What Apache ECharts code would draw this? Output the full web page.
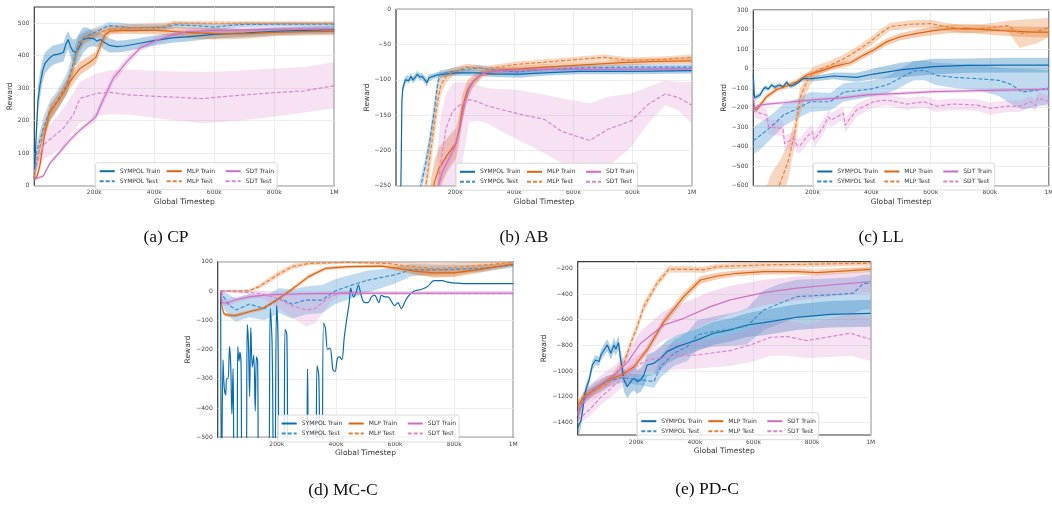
<!DOCTYPE html>
<html>
<head>
<meta charset="utf-8">
<script src="https://cdn.jsdelivr.net/npm/echarts@6/dist/echarts.min.js"></script>
<style>
html, body { margin: 0; padding: 0; background: #fff; }
#chart { width: 1052px; height: 506px; }
</style>
</head>
<body>
<div id="chart"></div>
<script>
// rows are [timestep (k), mean, lower, upper]
var seriesNames = ['SYMPOL Train', 'SYMPOL Test', 'MLP Train', 'MLP Test', 'SDT Train', 'SDT Test'];
var xTicks = [200, 400, 600, 800, 1000];
var cpTicksY = [0, 100, 200, 300, 400, 500];
var abTicksY = [-250, -200, -150, -100, -50, 0];
var llTicksY = [-600, -500, -400, -300, -200, -100, 0, 100, 200, 300];
var mcTicksY = [-500, -400, -300, -200, -100, 0, 100];
var pdTicksY = [-1400, -1200, -1000, -800, -600, -400, -200];

// (a) CP
var cpSympolTrain = [[0,20,10,30],[5,130,90,170],[12,260,215,305],[19,310,270,350],[28,355,320,390],[36,377,345,410],[50,392,362,422],[63,402,372,432],[80,405,378,435],[97,410,382,440],[105,435,405,462],[113,450,420,475],[120,430,398,460],[128,415,380,450],[140,410,370,452],[150,428,385,470],[163,450,410,488],[180,455,425,485],[200,452,430,474],[208,445,425,465],[220,450,430,470],[235,440,418,462],[250,432,410,454],[275,428,410,446],[300,430,412,448],[320,433,416,450],[360,440,424,456],[408,448,433,463],[460,455,440,470],[508,458,444,472],[600,466,453,479],[700,470,458,482],[800,475,463,487],[900,478,466,490],[1000,480,468,492]];
var cpSympolTest = [[0,40,20,60],[8,105,80,130],[30,177,145,210],[52,230,200,262],[75,258,230,290],[108,310,280,345],[130,376,345,410],[147,438,410,462],[169,458,440,475],[208,474,460,488],[247,493,480,503],[280,490,478,502],[319,486,474,498],[430,487,477,497],[470,495,485,503],[550,492,482,502],[600,488,478,498],[680,496,488,503],[800,497,490,503],[1000,497,490,503]];
var cpMlpTrain = [[0,20,15,25],[10,30,22,40],[19,64,50,80],[36,166,145,185],[52,228,205,250],[86,269,250,290],[119,320,300,342],[152,361,340,382],[186,381,362,400],[205,395,375,412],[222,435,415,455],[236,464,448,478],[252,476,465,488],[300,478,468,490],[400,478,466,490],[450,476,462,490],[500,472,455,488],[600,468,450,485],[700,467,452,482],[800,472,460,484],[900,474,462,486],[1000,475,463,487]];
var cpMlpTest = [[0,25,15,35],[10,80,60,100],[30,165,140,190],[52,220,195,245],[75,255,232,278],[108,305,280,330],[130,365,340,390],[147,430,405,452],[169,455,438,470],[208,468,455,482],[247,480,468,492],[300,485,473,497],[400,488,476,500],[440,492,482,502],[460,500,492,507],[600,500,494,506],[800,500,494,506],[1000,500,494,506]];
var cpSdtTrain = [[0,20,16,24],[30,30,25,36],[52,69,62,76],[86,105,97,113],[119,141,132,150],[152,171,162,180],[186,197,187,207],[205,212,200,224],[230,265,250,280],[263,330,315,345],[308,381,368,394],[352,423,412,434],[408,448,438,458],[463,464,455,473],[508,474,466,482],[600,478,470,486],[800,481,473,489],[1000,483,475,491]];
var cpSdtTest = [[0,40,25,55],[30,125,80,165],[63,151,100,200],[97,177,120,238],[130,218,170,285],[152,269,192,320],[208,284,215,345],[252,287,220,355],[319,279,218,358],[430,274,205,352],[560,268,192,350],[640,275,197,352],[780,285,210,360],[900,292,225,365],[1000,308,238,380]];

// (b) AB
var abSympolTrain = [[15,-300,-305,-295],[18,-200,-210,-190],[20,-130,-140,-120],[23,-112,-118,-106],[27,-106,-112,-100],[32,-100,-105,-95],[38,-98,-103,-93],[44,-101,-106,-96],[50,-95,-100,-90],[57,-100,-105,-95],[64,-97,-102,-92],[72,-92,-97,-87],[80,-96,-101,-91],[88,-95,-100,-90],[96,-99,-104,-94],[104,-104,-110,-98],[112,-97,-102,-92],[125,-95,-99,-91],[140,-93,-97,-89],[165,-92,-96,-88],[200,-90,-94,-86],[280,-90,-94,-86],[330,-92,-96,-88],[420,-92,-97,-87],[500,-90,-94,-86],[620,-88,-92,-84],[800,-88,-92,-84],[1000,-87,-91,-83]];
var abSympolTest = [[60,-330,-340,-320],[84,-250,-262,-238],[100,-220,-232,-208],[112,-192,-205,-180],[129,-145,-158,-132],[140,-108,-118,-98],[148,-92,-98,-86],[170,-90,-95,-85],[220,-86,-91,-81],[280,-83,-87,-79],[330,-86,-90,-82],[410,-89,-94,-84],[500,-85,-89,-81],[620,-83,-87,-79],[800,-82,-86,-78],[1000,-82,-86,-78]];
var abMlpTrain = [[110,-290,-320,-260],[130,-245,-275,-215],[146,-225,-255,-195],[174,-206,-230,-182],[203,-190,-212,-168],[214,-169,-190,-148],[225,-138,-158,-120],[242,-114,-128,-100],[259,-103,-112,-94],[293,-91,-96,-86],[350,-86,-90,-82],[429,-84,-88,-80],[500,-82,-86,-78],[620,-79,-83,-75],[750,-76,-80,-72],[870,-74,-78,-70],[1000,-73,-77,-69]];
var abMlpTest = [[90,-290,-310,-270],[101,-250,-272,-228],[123,-183,-205,-161],[140,-131,-150,-112],[152,-107,-122,-92],[169,-95,-104,-86],[191,-89,-95,-83],[237,-82,-87,-77],[304,-84,-88,-80],[412,-78,-82,-74],[502,-75,-79,-71],[615,-71,-75,-67],[705,-68,-72,-64],[785,-72,-76,-68],[898,-71,-75,-67],[1000,-68,-72,-64]];
var abSdtTrain = [[120,-290,-300,-280],[140,-255,-265,-245],[157,-230,-240,-220],[197,-197,-207,-187],[214,-173,-183,-163],[231,-136,-146,-126],[248,-112,-120,-104],[265,-100,-106,-94],[293,-91,-95,-87],[350,-87,-91,-83],[500,-85,-89,-81],[700,-85,-89,-81],[1000,-84,-88,-80]];
var abSdtTest = [[140,-260,-330,-200],[152,-216,-300,-150],[169,-169,-270,-120],[191,-145,-260,-105],[214,-136,-240,-103],[248,-128,-160,-104],[276,-131,-158,-108],[310,-137,-162,-112],[355,-142,-173,-113],[412,-148,-185,-114],[502,-156,-204,-121],[560,-173,-218,-126],[655,-186,-237,-133],[717,-170,-223,-124],[796,-158,-195,-119],[852,-135,-162,-110],[910,-120,-136,-101],[955,-125,-143,-103],[1000,-136,-162,-103]];

// (c) LL
var llSympolTrain = [[0,-30,-40,-20],[4,-150,-165,-135],[11,-144,-158,-130],[23,-135,-148,-122],[32,-110,-122,-98],[40,-96,-108,-84],[51,-105,-116,-94],[62,-84,-95,-73],[73,-96,-107,-85],[82,-88,-98,-78],[90,-84,-94,-74],[100,-95,-105,-85],[113,-70,-80,-60],[122,-88,-98,-78],[130,-89,-99,-79],[147,-76,-86,-66],[170,-50,-62,-38],[200,-52,-66,-38],[271,-38,-55,-20],[350,-45,-68,-22],[407,-28,-55,0],[497,-7,-45,30],[610,10,-30,50],[723,16,-22,52],[850,18,-20,55],[1000,18,-20,55]];
var llSympolTest = [[0,-370,-440,-300],[30,-335,-405,-270],[70,-285,-345,-225],[102,-238,-295,-182],[150,-205,-255,-155],[192,-170,-222,-120],[260,-170,-215,-125],[305,-121,-170,-75],[396,-105,-145,-62],[450,-85,-130,-40],[486,-58,-105,-12],[542,-12,-60,38],[580,-10,-60,40],[620,-35,-85,30],[680,-45,-100,25],[760,-52,-110,20],[830,-60,-140,5],[870,-80,-180,0],[910,-120,-210,0],[960,-110,-195,-5],[1000,-100,-180,-10]];
var llMlpTrain = [[3,-200,-215,-185],[11,-212,-225,-199],[45,-144,-158,-130],[79,-107,-120,-94],[113,-89,-101,-77],[147,-67,-80,-54],[181,-33,-46,-20],[226,-13,-26,0],[271,10,-5,25],[328,30,15,45],[373,69,52,86],[407,95,78,112],[452,138,120,156],[497,163,145,181],[554,180,160,200],[610,194,172,216],[667,204,182,226],[723,206,184,228],[836,194,170,218],[949,187,160,214],[1000,187,160,214]];
var llMlpTest = [[40,-800,-950,-620],[60,-720,-880,-540],[90,-590,-700,-470],[119,-470,-560,-380],[141,-320,-390,-260],[158,-150,-230,-100],[181,-67,-120,-30],[202,-23,-60,10],[230,0,-25,25],[260,18,-5,40],[300,45,22,68],[328,70,48,92],[360,100,78,122],[396,138,115,160],[430,180,158,200],[463,215,195,235],[531,227,207,247],[600,230,210,250],[650,215,195,235],[720,200,180,220],[800,210,188,232],[860,220,195,245],[900,180,105,250],[960,190,130,255],[1000,210,160,260]];
var llSdtTrain = [[0,-140,-150,-130],[5,-210,-222,-198],[15,-190,-200,-180],[40,-183,-192,-174],[100,-175,-184,-166],[200,-160,-169,-151],[300,-150,-159,-141],[384,-135,-144,-126],[500,-127,-136,-118],[610,-118,-127,-109],[800,-112,-121,-103],[1000,-106,-115,-97]];
var llSdtTest = [[0,-210,-240,-180],[6,-221,-255,-190],[45,-238,-272,-205],[52,-300,-340,-262],[100,-306,-345,-268],[106,-385,-425,-345],[136,-357,-395,-320],[147,-392,-430,-355],[158,-395,-435,-357],[181,-349,-388,-310],[200,-323,-360,-288],[206,-366,-405,-328],[237,-298,-335,-262],[254,-247,-282,-212],[262,-264,-300,-228],[305,-229,-262,-196],[310,-290,-330,-252],[350,-212,-245,-180],[407,-170,-200,-140],[452,-161,-190,-132],[520,-182,-212,-152],[576,-170,-200,-140],[621,-192,-222,-162],[678,-182,-212,-152],[757,-187,-217,-157],[802,-204,-236,-172],[859,-192,-222,-162],[904,-192,-222,-162],[938,-170,-200,-140],[955,-190,-220,-160],[962,-150,-180,-120],[1000,-170,-200,-140]];

// (d) MC-C  (SYMPOL Train drawn without a band)
var mcSympolTrain = [[10,0],[13,-700],[18,-235],[22,-330],[27,-355],[30,-300],[35,-300],[40,-190],[44,-250],[48,-420],[52,-265],[57,-700],[64,-700],[68,-190],[72,-240],[75,-210],[79,-250],[83,-700],[95,-700],[100,-115],[104,-180],[108,-360],[112,-125],[117,-260],[122,-220],[127,-410],[131,-225],[135,-240],[140,-700],[170,-700],[178,-60],[184,-180],[190,-700],[193,-700],[199,-50],[204,-160],[210,-700],[222,-700],[228,-130],[234,-150],[240,-700],[298,-700],[304,-265],[310,-700],[330,-700],[336,-255],[342,-290],[348,-700],[352,-700],[358,-110],[364,-125],[372,-200],[380,-195],[390,-270],[397,-275],[405,-230],[412,-225],[420,-235],[428,-160],[436,-100],[445,-40],[450,10],[455,-10],[460,-20],[468,-5],[476,20],[484,-10],[492,-35],[500,-40],[509,-40],[520,-20],[531,-15],[545,-40],[554,-15],[566,-20],[576,-20],[590,-40],[598,-50],[610,-40],[621,-60],[632,-40],[643,-20],[665,0],[688,5],[710,15],[732,35],[760,35],[777,30],[833,25],[888,25],[1000,25]];
var mcSympolTest = [[10,0,-5,5],[20,-20,-60,0],[40,-50,-90,-15],[62,-65,-105,-25],[107,-45,-90,-10],[158,-60,-100,-20],[208,-25,-75,10],[252,-45,-95,5],[297,-31,-80,15],[353,-31,-75,20],[397,0,-45,40],[453,20,-25,55],[509,37,-5,70],[598,55,25,80],[654,72,50,92],[732,72,55,90],[888,77,65,90],[1000,88,80,95]];
var mcMlpTrain = [[10,0,-5,5],[14,-50,-58,-42],[20,-75,-82,-68],[29,-82,-88,-76],[60,-84,-90,-78],[107,-71,-77,-65],[152,-60,-66,-54],[200,-31,-37,-25],[241,-2,-9,5],[308,49,42,56],[364,77,71,83],[442,83,78,88],[554,85,80,90],[610,77,68,86],[665,68,55,81],[732,62,48,76],[800,62,48,76],[888,74,62,86],[1000,92,85,99]];
var mcMlpTest = [[10,0,-3,3],[107,1,-3,5],[140,15,8,22],[174,37,27,47],[210,60,50,70],[252,83,74,92],[308,94,88,100],[442,98,94,102],[576,94,88,100],[620,88,75,98],[665,83,60,97],[732,77,45,95],[800,80,50,96],[888,88,70,99],[1000,98,92,103]];
var mcSdtTrain = [[10,0,-5,5],[15,-40,-50,-30],[30,-42,-52,-32],[60,-30,-40,-20],[107,-20,-28,-12],[150,-15,-22,-8],[200,-12,-18,-6],[300,-9,-14,-4],[400,-8,-13,-3],[1000,-8,-13,-3]];
var mcSdtTest = [[10,0,-3,3],[100,-5,-10,0],[150,-10,-25,0],[200,-25,-55,-5],[250,-50,-90,-10],[300,-65,-122,-12],[330,-60,-110,-10],[360,-35,-70,-5],[380,-20,-40,-5],[420,-5,-12,0],[500,-8,-13,-3],[1000,-8,-13,-3]];

// (e) PD-C
var pdSympolTrain = [[0,-1440,-1480,-1400],[6,-1444,-1485,-1405],[12,-1380,-1420,-1340],[20,-1250,-1290,-1210],[27,-1146,-1186,-1106],[39,-1068,-1105,-1030],[50,-952,-990,-915],[61,-913,-950,-876],[73,-925,-962,-888],[79,-874,-915,-833],[90,-835,-880,-790],[101,-796,-845,-750],[113,-861,-910,-812],[124,-796,-850,-740],[130,-830,-880,-780],[139,-778,-830,-720],[147,-913,-990,-840],[158,-1068,-1160,-980],[169,-1120,-1210,-1030],[181,-1081,-1170,-990],[192,-1055,-1150,-960],[203,-1081,-1175,-990],[215,-1068,-1160,-975],[226,-1029,-1120,-940],[237,-952,-1040,-870],[260,-939,-1030,-850],[283,-900,-990,-810],[305,-848,-940,-760],[340,-809,-900,-720],[374,-783,-870,-695],[408,-757,-845,-670],[464,-705,-795,-615],[521,-679,-770,-590],[578,-641,-735,-550],[635,-622,-720,-525],[748,-581,-680,-480],[862,-558,-660,-455],[1000,-550,-655,-445]];
var pdSympolTest = [[0,-1350,-1400,-1300],[20,-1210,-1260,-1160],[60,-1130,-1180,-1080],[100,-1080,-1125,-1035],[150,-1050,-1090,-1010],[215,-1068,-1110,-1025],[260,-1081,-1130,-1030],[283,-965,-1050,-880],[328,-861,-960,-760],[374,-809,-920,-700],[408,-718,-830,-605],[464,-692,-810,-575],[544,-666,-800,-540],[578,-648,-790,-510],[635,-524,-680,-370],[691,-472,-630,-320],[748,-420,-580,-290],[862,-407,-560,-280],[941,-394,-550,-270],[975,-317,-520,-250],[1000,-317,-520,-250]];
var pdMlpTrain = [[0,-1270,-1310,-1230],[20,-1200,-1235,-1165],[60,-1140,-1170,-1110],[100,-1070,-1100,-1040],[150,-1030,-1055,-1005],[192,-965,-990,-940],[237,-835,-865,-805],[294,-615,-650,-580],[362,-420,-455,-385],[419,-291,-320,-262],[476,-260,-285,-235],[544,-239,-262,-216],[635,-226,-248,-204],[748,-226,-248,-204],[816,-234,-256,-212],[1000,-208,-230,-186]];
var pdMlpTest = [[0,-1340,-1380,-1300],[20,-1200,-1240,-1160],[60,-1150,-1185,-1115],[100,-1100,-1130,-1070],[158,-939,-975,-900],[181,-783,-820,-745],[203,-654,-690,-615],[226,-498,-535,-460],[271,-317,-350,-285],[311,-208,-235,-180],[385,-208,-232,-184],[430,-212,-236,-188],[476,-187,-210,-164],[635,-174,-196,-152],[800,-168,-190,-146],[1000,-161,-183,-139]];
var pdSdtTrain = [[0,-1320,-1380,-1260],[30,-1200,-1270,-1130],[80,-1100,-1170,-1030],[124,-1030,-1100,-960],[170,-930,-1010,-850],[215,-783,-880,-690],[294,-641,-760,-530],[362,-589,-710,-470],[453,-498,-620,-380],[521,-446,-560,-335],[635,-389,-490,-290],[748,-355,-450,-265],[862,-330,-420,-245],[1000,-304,-390,-225]];
var pdSdtTest = [[0,-1380,-1420,-1340],[40,-1300,-1350,-1250],[80,-1200,-1260,-1140],[130,-1100,-1170,-1030],[181,-990,-1070,-910],[237,-913,-1000,-830],[328,-882,-990,-780],[408,-874,-980,-770],[521,-840,-960,-720],[589,-796,-930,-670],[657,-737,-880,-610],[714,-731,-880,-600],[782,-762,-900,-640],[862,-731,-890,-590],[930,-705,-880,-560],[1000,-752,-920,-580]];

// styles
var lineColors = ['#0b6db0', '#3a8fd0', '#de6410', '#e6823c', '#cf6fc4', '#da85cc'];
var bandColors = ['rgba(11,109,176,0.32)', 'rgba(58,143,208,0.32)', 'rgba(222,100,16,0.32)', 'rgba(230,130,60,0.32)', 'rgba(207,111,196,0.24)', 'rgba(218,133,204,0.24)'];

var panels = [
    { rows: [cpSympolTrain, cpSympolTest, cpMlpTrain, cpMlpTest, cpSdtTrain, cpSdtTest],
      box: [34.3, 7, 300, 178.7], yMin: 0, yMax: 550, yTicks: cpTicksY, yGap: 18,
      legendAt: [95.7, 162.7], caption: ['(a) CP', 166, 237] },
    { rows: [abSympolTrain, abSympolTest, abMlpTrain, abMlpTest, abSdtTrain, abSdtTest],
      box: [396, 9.3, 295.7, 176.4], yMin: -250, yMax: 0, yTicks: abTicksY, yGap: 23,
      legendAt: [456, 163.3], caption: ['(b) AB', 524, 237] },
    { rows: [llSympolTrain, llSympolTest, llMlpTrain, llMlpTest, llSdtTrain, llSdtTest],
      box: [753.3, 10, 295.7, 175.7], yMin: -600, yMax: 300, yTicks: llTicksY, yGap: 23,
      legendAt: [813.3, 163], caption: ['(c) LL', 881, 237] },
    { rows: [mcSympolTrain, mcSympolTest, mcMlpTrain, mcMlpTest, mcSdtTrain, mcSdtTest],
      box: [217.7, 261.7, 295.6, 175.6], yMin: -500, yMax: 100, yTicks: mcTicksY, yGap: 23,
      legendAt: [277.7, 415], caption: ['(d) MC-C', 343, 490] },
    { rows: [pdSympolTrain, pdSympolTest, pdMlpTrain, pdMlpTest, pdSdtTrain, pdSdtTest],
      box: [577.7, 261.7, 293, 173.3], yMin: -1496, yMax: -149, yTicks: pdTicksY, yGap: 26,
      legendAt: [637.3, 412.7], caption: ['(e) PD-C', 707, 489] }
];

var tickColor = '#444';

function bandSeries(rows, gi, color) {
    return {
        type: 'custom',
        xAxisIndex: gi,
        yAxisIndex: gi,
        silent: true,
        z: 1,
        data: rows.map(function (r) { return [r[0], r[2], r[3]]; }),
        encode: { x: 0, y: [1, 2] },
        renderItem: function (params, api) {
            if (params.dataIndex !== 0) {
                return null;
            }
            var lower = rows.map(function (r) { return api.coord([r[0], r[2]]); });
            var upper = rows.map(function (r) { return api.coord([r[0], r[3]]); }).reverse();
            var cs = params.coordSys;
            return {
                type: 'polygon',
                shape: { points: lower.concat(upper) },
                style: { fill: color },
                clipPath: { type: 'rect', shape: { x: cs.x, y: cs.y, width: cs.width, height: cs.height } }
            };
        }
    };
}

function lineSeries(rows, gi, s, smooth) {
    return {
        type: 'line',
        name: seriesNames[s],
        xAxisIndex: gi,
        yAxisIndex: gi,
        data: rows.map(function (r) { return [r[0], r[1]]; }),
        symbol: 'none',
        showSymbol: false,
        smooth: smooth || false,
        clip: true,
        z: 3,
        lineStyle: { color: lineColors[s], width: 1.2, type: s % 2 ? [4, 2] : 'solid' },
        itemStyle: { color: lineColors[s] }
    };
}

var option = {
    animation: false,
    backgroundColor: '#fff',
    textStyle: { fontFamily: 'DejaVu Sans' },
    grid: [], xAxis: [], yAxis: [], legend: [], series: [], graphic: []
};

panels.forEach(function (p, i) {
    option.grid.push({
        left: p.box[0], top: p.box[1], width: p.box[2], height: p.box[3],
        show: true, borderColor: '#3a3a3a', borderWidth: 1.2, backgroundColor: '#fff',
        containLabel: false, outerBoundsMode: 'none'
    });
    option.xAxis.push({
        gridIndex: i, type: 'value', min: 0, max: 1000,
        name: 'Global Timestep', nameLocation: 'middle', nameGap: 12,
        nameTextStyle: { fontSize: 7.5, color: '#333' },
        axisLine: { show: false },
        axisTick: { show: false, customValues: xTicks },
        axisLabel: {
            customValues: xTicks, fontSize: 6, color: tickColor, margin: 4,
            formatter: function (v) { return v === 1000 ? '1M' : v + 'k'; }
        },
        splitLine: { show: true, lineStyle: { color: '#e8e8e8', width: 0.8 } }
    });
    option.yAxis.push({
        gridIndex: i, type: 'value', min: p.yMin, max: p.yMax,
        name: 'Reward', nameLocation: 'middle', nameGap: p.yGap,
        nameTextStyle: { fontSize: 7.5, color: '#333' },
        axisLine: { show: false },
        axisTick: { show: false, customValues: p.yTicks },
        axisLabel: {
            customValues: p.yTicks, fontSize: 6, color: tickColor, margin: 5,
            formatter: function (v) { return String(v).replace('-', '\u2212'); }
        },
        splitLine: { show: true, lineStyle: { color: '#e8e8e8', width: 0.8 } }
    });
    option.legend.push({
        left: p.legendAt[0], top: p.legendAt[1], width: 176,
        orient: 'horizontal', selectedMode: false,
        itemWidth: 15, itemHeight: 1, itemGap: 4,
        padding: [5.5, 3],
        itemStyle: { opacity: 0 },
        backgroundColor: 'rgba(255,255,255,0.85)', borderColor: '#d0d0d0', borderWidth: 0.8, borderRadius: 2,
        textStyle: { fontSize: 6, color: '#333', lineHeight: 4 },
        data: [
            { name: 'SYMPOL Train', textStyle: { width: 42, fontSize: 6, lineHeight: 4 } },
            { name: 'MLP Train', textStyle: { width: 34, fontSize: 6, lineHeight: 4 } },
            { name: 'SDT Train', textStyle: { width: 28, fontSize: 6, lineHeight: 4 } },
            { name: 'SYMPOL Test', textStyle: { width: 42, fontSize: 6, lineHeight: 4 } },
            { name: 'MLP Test', textStyle: { width: 34, fontSize: 6, lineHeight: 4 } },
            { name: 'SDT Test', textStyle: { width: 28, fontSize: 6, lineHeight: 4 } }
        ]
    });
    p.rows.forEach(function (rows, s) {
        if (rows[0].length > 2) {
            option.series.push(bandSeries(rows, i, bandColors[s]));
        }
    });
    p.rows.forEach(function (rows, s) {
        var wiggly = rows[0].length === 2;
        option.series.push(lineSeries(rows, i, s, wiggly ? 0.35 : false));
    });
    option.graphic.push({
        type: 'text', x: p.caption[1], y: p.caption[2],
        style: {
            text: p.caption[0], font: '17.5px "Liberation Serif"', fill: '#111',
            textAlign: 'center', textVerticalAlign: 'middle'
        }
    });
});

var chart = echarts.init(document.getElementById('chart'));
chart.setOption(option);
</script>
</body>
</html>
